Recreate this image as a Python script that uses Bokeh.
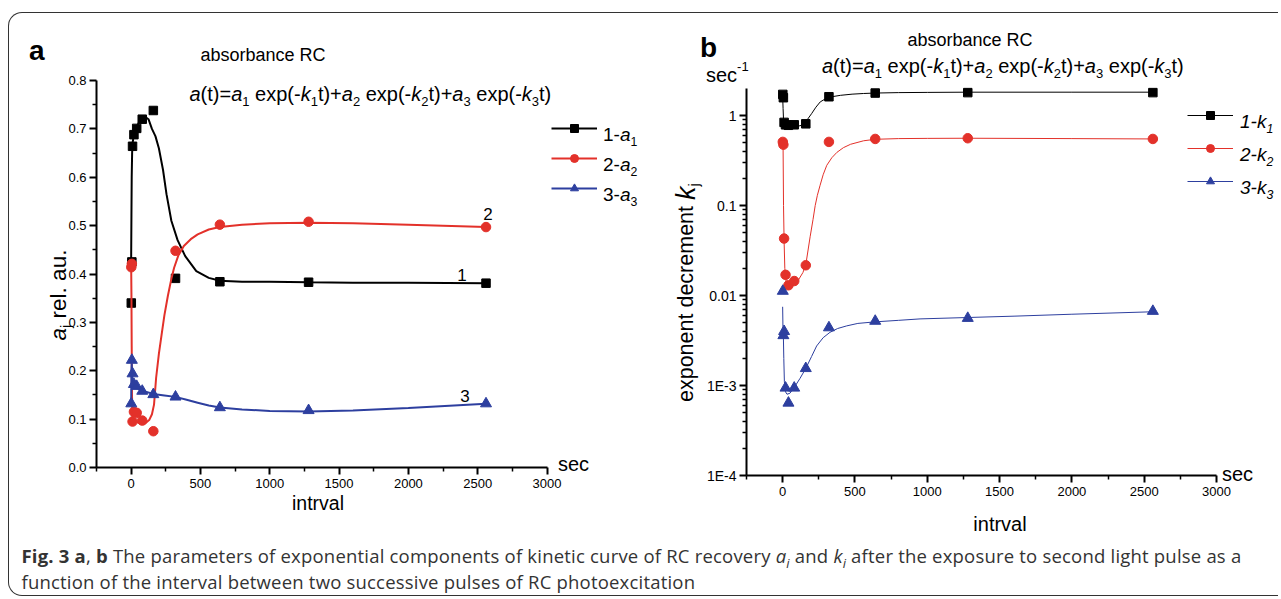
import math
from bokeh.plotting import figure
from bokeh.models import Label, Legend, LegendItem, FixedTicker, Range1d, Div, Spacer
from bokeh.layouts import column, row
from bokeh.embed import file_html
from bokeh.resources import INLINE

# ---------------- data ----------------
interval = [1, 5, 10, 20, 40, 80, 160, 320, 640, 1280, 2560]
a1_pts = [0.34, 0.425, 0.664, 0.688, 0.701, 0.720, 0.738, 0.391, 0.384, 0.383, 0.381]
a2_pts = [0.414, 0.421, 0.095, 0.115, 0.113, 0.097, 0.075, 0.448, 0.502, 0.508, 0.497]
a3_pts = [0.132, 0.222, 0.194, 0.172, 0.168, 0.158, 0.151, 0.146, 0.124, 0.118, 0.132]
k1_pts = [1.72, 1.58, 0.84, 0.79, 0.78, 0.79, 0.81, 1.62, 1.78, 1.80, 1.80]
k2_pts = [0.51, 0.475, 0.043, 0.017, 0.013, 0.0145, 0.0217, 0.51, 0.55, 0.56, 0.55]
k3_pts = [0.0112, 0.0036, 0.0040, 0.00094, 0.00064, 0.00094, 0.00155, 0.0044, 0.0052, 0.0056, 0.0067]

# fitted curves
fa1_x = [0, 2, 4, 7, 10, 20, 40, 70, 100, 125, 150, 175, 200, 230, 255, 290, 335, 390, 470, 560, 640, 800, 1000, 1280, 1600, 2000, 2560]
fa1_y = [0.43, 0.52, 0.60, 0.65, 0.67, 0.69, 0.705, 0.72, 0.725, 0.72, 0.70, 0.685, 0.66, 0.615, 0.565, 0.51, 0.47, 0.437, 0.406, 0.392, 0.386, 0.384, 0.384, 0.383, 0.382, 0.382, 0.381]
fa2_x = [0, 2, 4, 6, 10, 20, 40, 70, 100, 130, 150, 165, 180, 200, 220, 240, 265, 290, 310, 340, 380, 430, 480, 560, 640, 800, 1000, 1280, 1600, 2000, 2560]
fa2_y = [0.42, 0.36, 0.25, 0.15, 0.105, 0.098, 0.094, 0.091, 0.091, 0.098, 0.11, 0.13, 0.185, 0.235, 0.275, 0.315, 0.355, 0.39, 0.413, 0.438, 0.458, 0.472, 0.482, 0.492, 0.497, 0.502, 0.505, 0.506, 0.505, 0.502, 0.497]
fa3_x = [0, 2, 4, 7, 10, 20, 40, 80, 160, 240, 320, 400, 480, 560, 640, 800, 1000, 1280, 1600, 2000, 2560]
fa3_y = [0.13, 0.20, 0.215, 0.195, 0.18, 0.17, 0.165, 0.159, 0.152, 0.149, 0.146, 0.14, 0.134, 0.128, 0.124, 0.12, 0.117, 0.116, 0.118, 0.123, 0.132]

fk1_x = [0, 3, 6, 10, 20, 40, 80, 120, 145, 170, 200, 230, 260, 300, 340, 400, 480, 560, 640, 800, 1000, 1280, 2000, 2560]
fk1_y = [1.65, 1.2, 0.9, 0.8, 0.77, 0.765, 0.765, 0.77, 0.8, 0.9, 1.05, 1.24, 1.42, 1.55, 1.62, 1.68, 1.73, 1.76, 1.78, 1.80, 1.81, 1.82, 1.82, 1.82]
fk2_x = [0, 3, 6, 10, 15, 25, 40, 60, 80, 110, 140, 160, 190, 210, 225, 240, 258, 280, 305, 340, 375, 420, 470, 560, 640, 800, 1000, 1280, 2000, 2560]
fk2_y = [0.50, 0.45, 0.1, 0.04, 0.02, 0.0135, 0.0125, 0.0125, 0.013, 0.015, 0.018, 0.022, 0.045, 0.07, 0.1, 0.13, 0.166, 0.22, 0.28, 0.34, 0.39, 0.44, 0.48, 0.525, 0.545, 0.555, 0.558, 0.56, 0.555, 0.55]
fk3_x = [0, 2, 5, 8, 12, 20, 30, 50, 80, 120, 160, 200, 235, 280, 327, 380, 443, 520, 640, 800, 950, 1280, 1600, 2000, 2560]
fk3_y = [0.0075, 0.0045, 0.0035, 0.002, 0.0011, 0.00085, 0.0008, 0.00082, 0.00095, 0.0012, 0.00155, 0.0021, 0.00275, 0.0034, 0.0039, 0.0043, 0.0046, 0.0049, 0.0051, 0.0053, 0.0055, 0.0057, 0.0059, 0.0062, 0.0066]

x_ticks = [0, 500, 1000, 1500, 2000, 2500, 3000]
x_minor = [-250, 250, 750, 1250, 1750, 2250, 2750]
x_lim = (-250, 3000)
ya_ticks = [0.0, 0.1, 0.2, 0.3, 0.4, 0.5, 0.6, 0.7, 0.8]
ya_labels = ["0.0", "0.1", "0.2", "0.3", "0.4", "0.5", "0.6", "0.7", "0.8"]
ya_minor = [0.05, 0.15, 0.25, 0.35, 0.45, 0.55, 0.65, 0.75]
ya_lim = (0.0, 0.8)
yb_ticks = [0.0001, 0.001, 0.01, 0.1, 1.0]
yb_labels = ["1E-4", "1E-3", "0.01", "0.1", "1"]
yb_minor = [m * d for d in [0.0001, 0.001, 0.01, 0.1] for m in range(2, 10)]
yb_lim = (0.0001, 2.0)

BLACK = "#000000"
RED = "#e3312a"
BLUE = "#2d3f9f"
FONT = "Liberation Sans"

# ---------------- geometry (page pixels) ----------------
OX, OY = 9.5, 13.5          # inside the rounded box
WA, WB, H = 645, 624, 530
FIG_A = dict(L=OX, T=OY, R=OX + WA, B=OY + H)
FIG_B = dict(L=OX + WA, T=OY, R=OX + WA + WB, B=OY + H)
BOX_A = dict(L=96.5, R=547.0, T=80.5, B=467.5)    # data box of panel a
BOX_B = dict(L=746.5, R=1216.5, T=88.5, B=475.5)  # data box of panel b


def lin_range(lo, hi, p_lo, p_hi, f_lo, f_hi):
    k = (hi - lo) / (p_hi - p_lo)
    return lo - (p_lo - f_lo) * k, hi + (f_hi - p_hi) * k


def log_range(lo, hi, p_lo, p_hi, f_lo, f_hi):
    a, b = math.log10(lo), math.log10(hi)
    k = (b - a) / (p_hi - p_lo)
    return 10 ** (a - (p_lo - f_lo) * k), 10 ** (b + (f_hi - p_hi) * k)


# Arial / Liberation Sans advance widths (1/1000 em)
W = {' ': 278, '\u00a0': 278, '(': 333, ')': 333, '+': 584, '-': 333, '.': 278, ',': 278, '=': 584,
     'A': 667, 'C': 722, 'E': 667, 'R': 722,
     'a': 556, 'b': 556, 'c': 500, 'd': 556, 'e': 556, 'f': 278, 'g': 556, 'h': 556, 'i': 222,
     'j': 222, 'k': 500, 'l': 222, 'm': 833, 'n': 556, 'o': 556, 'p': 556, 'q': 556, 'r': 333,
     's': 500, 't': 278, 'u': 556, 'v': 500, 'w': 722, 'x': 500, 'y': 500, 'z': 500}
for d in "0123456789":
    W[d] = 556


def tw(s, size):
    return sum(W.get(c, 556) for c in s) / 1000.0 * size


def rich(fig, F, runs, px, py, size, align="left", angle=0.0, color="#000000", sub=0.65):
    sizes = []
    for r in runs:
        sc = r[3] if len(r) > 3 else 1.0
        sizes.append(size * sc * (sub if r[2] != "n" else 1.0))
    widths = [tw(r[0], s) for r, s in zip(runs, sizes)]
    total = sum(widths)
    cur = 0.0 if align == "left" else (-total / 2 if align == "center" else -total)
    for r, s, w in zip(runs, sizes, widths):
        t, st, kind = r[0].replace(" ", "\u00a0"), r[1], r[2]
        off = 0.37 * size if kind == "sub" else (-0.45 * size if kind == "sup" else 0.0)
        if angle == 0:
            x, y = px + cur, py + off
        else:
            x, y = px + off, py - cur
        style = {"i": "italic", "b": "bold", "n": "normal"}[st]
        fig.add_layout(Label(x=x - F['L'], y=F['B'] - y, x_units="screen", y_units="screen",
                             text=t, text_font=FONT, text_font_size="%.1fpx" % s,
                             text_font_style=style, text_baseline="alphabetic", text_align="left",
                             angle=angle, text_color=color))
        cur += w


def make_fig(F, xr, yr, log=False):
    p = figure(width=int(F['R'] - F['L']), height=int(F['B'] - F['T']),
               x_range=Range1d(*xr), y_range=Range1d(*yr),
               y_axis_type="log" if log else "linear",
               output_backend="svg", toolbar_location=None,
               min_border_left=0, min_border_right=0, min_border_top=0, min_border_bottom=0)
    p.title.visible = False
    p.xgrid.visible = False
    p.ygrid.visible = False
    p.outline_line_color = None
    p.background_fill_color = None
    p.border_fill_color = None
    for ax in (p.xaxis[0], p.yaxis[0]):
        ax.axis_line_width = 2
        ax.axis_line_color = "black"
        ax.major_tick_line_width = 2
        ax.minor_tick_line_width = 1.5
        ax.major_tick_out = 7
        ax.major_tick_in = 0
        ax.minor_tick_out = 4
        ax.minor_tick_in = 0
        ax.major_label_text_font = FONT
        ax.major_label_text_color = "black"
    p.xaxis[0].major_label_text_font_size = "13px"
    p.xaxis[0].major_label_standoff = 4
    p.yaxis[0].major_label_standoff = 3
    return p


def add_legend(p, F, items, left, bottom, spacing):
    leg = Legend(items=[LegendItem(label=" ", renderers=list(r)) for r in items],
                 location=(left - F['L'], F['B'] - bottom), orientation="vertical",
                 glyph_width=46, glyph_height=20, label_height=20, label_width=1, spacing=spacing,
                 padding=0, margin=0, border_line_color=None, background_fill_alpha=0,
                 label_text_font_size="1px", label_standoff=0)
    p.add_layout(leg)


formula = [("a", "i", "n"), ("(t)=", "n", "n"), ("a", "i", "n"), ("1", "n", "sub"), (" exp(-", "n", "n"),
           ("k", "i", "n"), ("1", "n", "sub"), ("t)+", "n", "n"), ("a", "i", "n"), ("2", "n", "sub"),
           (" exp(-", "n", "n"), ("k", "i", "n"), ("2", "n", "sub"), ("t)+", "n", "n"), ("a", "i", "n"),
           ("3", "n", "sub"), (" exp(-", "n", "n"), ("k", "i", "n"), ("3", "n", "sub"), ("t)", "n", "n")]

# ---------------- panel a ----------------
xra = lin_range(x_lim[0], x_lim[1], BOX_A['L'], BOX_A['R'], FIG_A['L'], FIG_A['R'])
yra = lin_range(ya_lim[0], ya_lim[1], -BOX_A['B'], -BOX_A['T'], -FIG_A['B'], -FIG_A['T'])
pa = make_fig(FIG_A, xra, yra)
pa.xaxis[0].fixed_location = ya_lim[0]
pa.yaxis[0].fixed_location = x_lim[0]
pa.xaxis[0].bounds = x_lim
pa.yaxis[0].bounds = ya_lim
pa.yaxis[0].major_label_text_font_size = "13px"
pa.xaxis[0].ticker = FixedTicker(ticks=x_ticks, minor_ticks=x_minor)
pa.yaxis[0].ticker = FixedTicker(ticks=ya_ticks, minor_ticks=ya_minor)
pa.yaxis[0].major_label_overrides = dict(zip(ya_ticks, ya_labels))

la1 = pa.line(fa1_x, fa1_y, line_color=BLACK, line_width=2)
sa1 = pa.scatter(interval, a1_pts, marker="square", size=8.5, color=BLACK)
la2 = pa.line(fa2_x, fa2_y, line_color=RED, line_width=2)
sa2 = pa.scatter(interval, a2_pts, marker="circle", size=9.5, color=RED)
la3 = pa.line(fa3_x, fa3_y, line_color=BLUE, line_width=2)
sa3 = pa.scatter(interval, a3_pts, marker="triangle", size=11, color=BLUE)

rows_a = [128, 158, 188]
add_legend(pa, FIG_A, [(la1, sa1), (la2, sa2), (la3, sa3)], 551.7, rows_a[-1] + 10, 10)

rich(pa, FIG_A, [("a", "b", "n")], 29, 50, 28)
rich(pa, FIG_A, [("absorbance RC", "n", "n")], 263, 55, 18, align="center")
rich(pa, FIG_A, formula, 189.5, 94, 20)
for i, rc in enumerate(rows_a):
    n = str(i + 1)
    rich(pa, FIG_A, [(n + "-", "n", "n"), ("a", "i", "n"), (n, "n", "sub")], 603, rc + 6, 19)
rich(pa, FIG_A, [("1", "n", "n")], 462, 275, 17, align="center")
rich(pa, FIG_A, [("2", "n", "n")], 488, 214, 17, align="center")
rich(pa, FIG_A, [("3", "n", "n")], 465, 396, 17, align="center")
rich(pa, FIG_A, [("sec", "n", "n")], 558, 464, 20)
rich(pa, FIG_A, [("intrval", "n", "n")], 318, 503, 19.5, align="center")
rich(pa, FIG_A, [("a", "i", "n"), ("j", "n", "sub"), (" rel. au.", "n", "n")], 58, 295, 22.5,
     align="center", angle=math.pi / 2)

# ---------------- panel b ----------------
xrb = lin_range(x_lim[0], x_lim[1], BOX_B['L'], BOX_B['R'], FIG_B['L'], FIG_B['R'])
yrb = log_range(yb_lim[0], yb_lim[1], -BOX_B['B'], -BOX_B['T'], -FIG_B['B'], -FIG_B['T'])
pb = make_fig(FIG_B, xrb, yrb, log=True)
pb.xaxis[0].fixed_location = yb_lim[0]
pb.yaxis[0].fixed_location = x_lim[0]
pb.xaxis[0].bounds = x_lim
pb.yaxis[0].bounds = yb_lim
pb.yaxis[0].major_label_text_font_size = "14px"
pb.xaxis[0].ticker = FixedTicker(ticks=x_ticks, minor_ticks=x_minor)
pb.yaxis[0].ticker = FixedTicker(ticks=yb_ticks, minor_ticks=yb_minor)
pb.yaxis[0].major_label_overrides = dict(zip(yb_ticks, yb_labels))

lb1 = pb.line(fk1_x, fk1_y, line_color=BLACK, line_width=1)
sb1 = pb.scatter(interval, k1_pts, marker="square", size=8.5, color=BLACK)
lb2 = pb.line(fk2_x, fk2_y, line_color=RED, line_width=1)
sb2 = pb.scatter(interval, k2_pts, marker="circle", size=9.5, color=RED)
lb3 = pb.line(fk3_x, fk3_y, line_color=BLUE, line_width=1)
sb3 = pb.scatter(interval, k3_pts, marker="triangle", size=11, color=BLUE)

rows_b = [115, 148, 181]
add_legend(pb, FIG_B, [(lb1, sb1), (lb2, sb2), (lb3, sb3)], 1187, rows_b[-1] + 10, 13)

rich(pb, FIG_B, [("b", "b", "n")], 700, 47, 28)
rich(pb, FIG_B, [("absorbance RC", "n", "n")], 970, 40, 18, align="center")
rich(pb, FIG_B, formula, 822, 66, 20)
rich(pb, FIG_B, [("sec", "n", "n"), ("-1", "n", "sup")], 706, 75, 20)
for i, rc in enumerate(rows_b):
    n = str(i + 1)
    rich(pb, FIG_B, [(n + "-k", "i", "n"), (n, "i", "sub")], 1240, rc + 6, 19)
rich(pb, FIG_B, [("sec", "n", "n")], 1222, 474, 20)
rich(pb, FIG_B, [("intrval", "n", "n")], 1000, 524, 20, align="center")
rich(pb, FIG_B, [("exponent decrement ", "n", "n"), ("k", "i", "n", 1.25), ("j", "n", "sub")],
     686, 402, 21.5, angle=math.pi / 2)

# ---------------- caption & frame ----------------
cap_html = ('<div style="font-family:\'Open Sans\';font-size:18.5px;letter-spacing:0.2px;line-height:26px;'
            'color:#333;padding-left:12.5px;white-space:nowrap;">'
            '<b>Fig. 3 a</b>, <b>b</b> The parameters of exponential components of kinetic curve of RC '
            'recovery <i>a<sub style="font-size:0.7em;line-height:0">i</sub></i> and '
            '<i>k<sub style="font-size:0.7em;line-height:0">i</sub></i> after the exposure to second '
            'light pulse as a<br>function of the interval between two successive pulses of RC '
            'photoexcitation</div>')
cap = Div(text=cap_html, width=WA + WB, height=52, margin=0)

boxed = column(row(pa, pb, spacing=0), cap, spacing=0,
               styles={"border-left": "1.5px solid #333", "border-top": "1.5px solid #333",
                       "border-bottom": "1.5px solid #333", "border-top-left-radius": "14px",
                       "border-bottom-left-radius": "14px"})
root = row(Spacer(width=8, height=10), column(Spacer(width=WA + WB, height=12), boxed, spacing=0),
           spacing=0)

open("out.html", "w").write(file_html(root, INLINE))
